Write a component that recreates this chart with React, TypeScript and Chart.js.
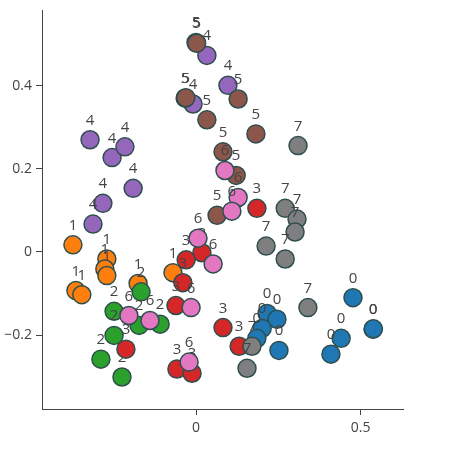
import React, { useEffect, useRef } from "react";
import { Chart, registerables } from "chart.js";

Chart.register(...registerables);

// Per-class points [x, y]
const class0: number[][] = [
  [0.216, -0.148], [0.246, -0.162], [0.201, -0.184], [0.185, -0.208], [0.252, -0.237],
  [0.477, -0.110], [0.538, -0.186], [0.539, -0.185], [0.441, -0.208], [0.410, -0.246],
];
const class1: number[][] = [
  [-0.374, 0.017], [-0.271, -0.017], [-0.277, -0.041], [-0.271, -0.057],
  [-0.365, -0.093], [-0.347, -0.103], [-0.070, -0.050], [-0.176, -0.076],
];
const class2: number[][] = [
  [-0.167, -0.096], [-0.249, -0.143], [-0.249, -0.201], [-0.173, -0.177],
  [-0.109, -0.174], [-0.289, -0.258], [-0.225, -0.301],
];
const class3: number[][] = [
  [0.018, -0.002], [-0.030, -0.019], [-0.040, -0.074], [-0.061, -0.129], [-0.213, -0.234],
  [-0.058, -0.282], [-0.012, -0.292], [0.082, -0.182], [0.131, -0.227], [0.185, 0.105],
];
const class4: number[][] = [
  [-0.322, 0.270], [-0.255, 0.227], [-0.216, 0.253], [-0.191, 0.153], [-0.283, 0.117],
  [-0.313, 0.067], [0.033, 0.473], [0.097, 0.401], [-0.009, 0.356],
];
const class5: number[][] = [
  [0.000, 0.504], [0.002, 0.502], [-0.033, 0.370], [-0.031, 0.371], [0.128, 0.368],
  [0.033, 0.318], [0.182, 0.284], [0.082, 0.241], [0.122, 0.184], [0.064, 0.088],
];
const class6: number[][] = [
  [0.088, 0.196], [0.128, 0.131], [0.109, 0.098], [0.006, 0.033], [0.052, -0.029],
  [-0.204, -0.153], [-0.140, -0.165], [-0.015, -0.134], [-0.021, -0.265],
];
const class7: number[][] = [
  [0.310, 0.256], [0.271, 0.105], [0.307, 0.079], [0.301, 0.048], [0.213, 0.014],
  [0.271, -0.017], [0.340, -0.134], [0.170, -0.227], [0.155, -0.280],
];

const classes = [class0, class1, class2, class3, class4, class5, class6, class7];
const classNames = ["0", "1", "2", "3", "4", "5", "6", "7"];
const classColors = [
  "#1f77b4", "#ff7f0e", "#2ca02c", "#d62728",
  "#9467bd", "#8c564b", "#e377c2", "#7f7f7f",
];

const xTicks = [0, 0.5];
const yTicks = [-0.2, 0, 0.2, 0.4];
const xRange = [-0.468, 0.629];
const yRange = [-0.378, 0.581];

const FONT = '"Open Sans", "DejaVu Sans", sans-serif';
const TEXT_COLOR = "#444";

const fmt = (v: number) => {
  if (Math.abs(v) < 1e-9) return "0";
  const s = String(Math.round(v * 100) / 100);
  return s.replace("-", "\u2212");
};

const labelPlugin = {
  id: "pointLabels",
  afterDatasetDraw(chart: any, args: any) {
    const ctx = chart.ctx;
    const meta = args.meta;
    const ds = chart.data.datasets[args.index];
    ctx.save();
    ctx.font = `15px ${FONT}`;
    ctx.fillStyle = TEXT_COLOR;
    ctx.textAlign = "center";
    ctx.textBaseline = "alphabetic";
    meta.data.forEach((el: any) => {
      ctx.fillText(ds.label, el.x, el.y - 15);
    });
    ctx.restore();
  },
};

export default function App() {
  const ref = useRef<HTMLCanvasElement>(null);
  useEffect(() => {
    const datasets = classes.map((pts, i) => ({
      label: classNames[i],
      data: pts.map(([x, y]) => ({ x, y })),
      backgroundColor: classColors[i],
      borderColor: "#2F4F4F",
      borderWidth: 1.5,
      pointRadius: 9,
      pointHoverRadius: 9,
      order: classes.length - i,
    }));
    const chart = new Chart(ref.current as HTMLCanvasElement, {
      type: "scatter",
      data: { datasets },
      plugins: [labelPlugin],
      options: {
        responsive: false,
        animation: false,
        devicePixelRatio: 1,
        events: [],
        layout: { padding: { left: 0, top: 8, right: 48, bottom: 0 } },
        plugins: { legend: { display: false }, tooltip: { enabled: false } },
        scales: {
          x: {
            type: "linear",
            min: xRange[0],
            max: xRange[1],
            afterBuildTicks: (s: any) => {
              s.ticks = xTicks.map((v) => ({ value: v }));
            },
            afterFit: (s: any) => {
              s.height = 40;
              s.paddingLeft = 0;
              s.paddingRight = 0;
            },
            ticks: {
              callback: (v: any) => fmt(Number(v)),
              color: TEXT_COLOR,
              font: { family: FONT, size: 14 },
              padding: 5,
              maxRotation: 0,
              autoSkip: false,
            },
            grid: {
              drawOnChartArea: false,
              drawTicks: true,
              tickLength: 6,
              color: TEXT_COLOR,
              lineWidth: 1,
            },
            border: { display: true, color: TEXT_COLOR, width: 1 },
          },
          y: {
            type: "linear",
            min: yRange[0],
            max: yRange[1],
            afterBuildTicks: (s: any) => {
              s.ticks = yTicks.map((v) => ({ value: v }));
            },
            afterFit: (s: any) => {
              s.width = 42;
              s.paddingTop = 0;
              s.paddingBottom = 0;
            },
            ticks: {
              callback: (v: any) => fmt(Number(v)),
              color: TEXT_COLOR,
              font: { family: FONT, size: 14 },
              padding: 4,
              autoSkip: false,
            },
            grid: {
              drawOnChartArea: false,
              drawTicks: true,
              tickLength: 6,
              color: TEXT_COLOR,
              lineWidth: 1,
            },
            border: { display: true, color: TEXT_COLOR, width: 1 },
          },
        },
      } as any,
    });
    return () => chart.destroy();
  }, []);
  return (
    <div style={{ position: "fixed", left: 0, top: 0, width: 451, height: 449, background: "#fff" }}>
      <canvas ref={ref} width={451} height={449} style={{ width: 451, height: 449, display: "block" }} />
    </div>
  );
}
